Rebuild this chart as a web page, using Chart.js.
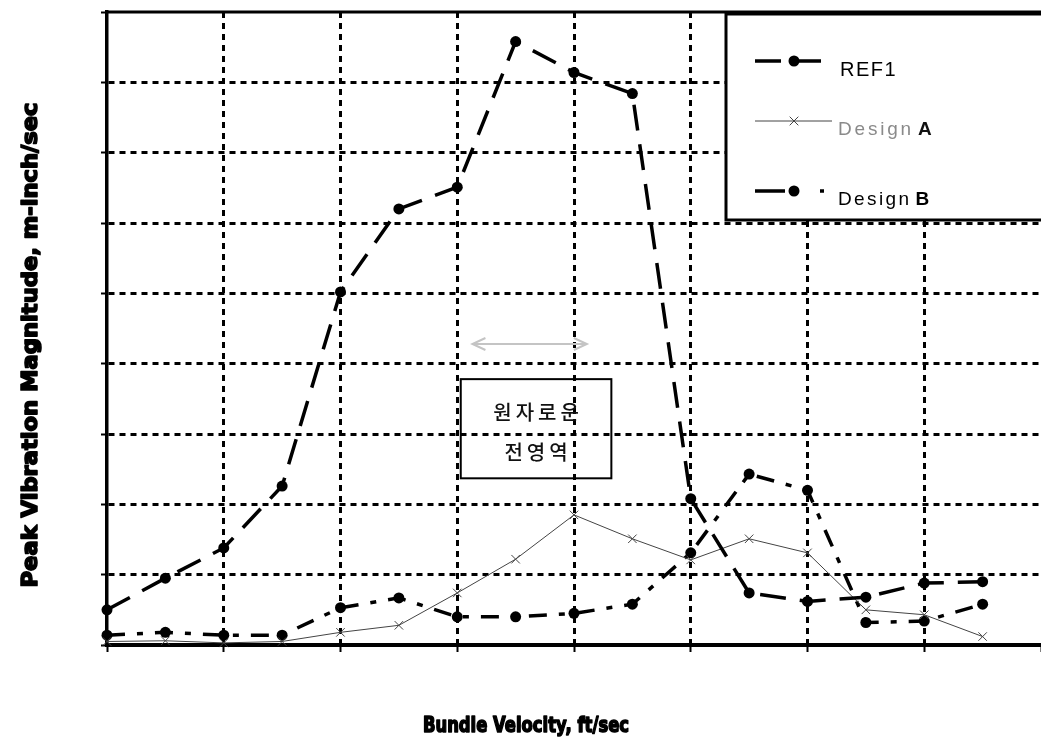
<!DOCTYPE html>
<html>
<head>
<meta charset="utf-8">
<script src="https://cdn.jsdelivr.net/npm/chart.js@4.4.0/dist/chart.umd.min.js"></script>
<style>
html, body { margin: 0; padding: 0; background: #fff; }
</style>
</head>
<body>
<canvas id="myChart" width="1041" height="738"></canvas>
<script>
// values (no tick labels are printed on it)
const velocity = [0, 0.5, 1, 1.5, 2, 2.5, 3, 3.5, 4, 4.5, 5, 5.5, 6, 6.5, 7, 7.5];
const ref1    = [0.5, 0.95, 1.38, 2.26, 5.02, 6.2, 6.51, 8.58, 8.14, 7.84, 2.08, 0.74, 0.62, 0.68, 0.88, 0.9];
const designA = [0.05, 0.06, 0.03, 0.05, 0.18, 0.28, 0.74, 1.22, 1.85, 1.51, 1.21, 1.51, 1.31, 0.5, 0.43, 0.12];
const designB = [0.14, 0.18, 0.14, 0.14, 0.53, 0.67, 0.4, 0.4, 0.45, 0.58, 1.31, 2.43, 2.2, 0.32, 0.34, 0.58];
const seriesNames = ['REF1', 'Design A', 'Design B'];
const xTitle = 'Bundle Velocity, ft/sec';
const yTitle = 'Peak Vibration Magnitude, m-inch/sec';
const noteLines = ['원자로운', '전영역'];

function toPoints(vals) {
  return vals.map((v, i) => ({x: velocity[i], y: v}));
}

const styles = [
  {borderColor: '#000', backgroundColor: '#000', borderWidth: 3.5, borderDash: [26, 14], pointStyle: 'circle', pointRadius: 5.5},
  {borderColor: '#444', backgroundColor: '#444', borderWidth: 1, borderDash: [], pointStyle: 'crossRot', pointRadius: 6},
  {borderColor: '#000', backgroundColor: '#000', borderWidth: 3.5, borderDash: [18, 12, 6, 12], pointStyle: 'circle', pointRadius: 5.5}
];

// draws text char by char with extra spacing, returns end x
function spacedText(ctx, text, x, y, gap) {
  for (const ch of text) {
    ctx.fillText(ch, x, y);
    x += ctx.measureText(ch).width + gap;
  }
  return x;
}

function stretchedText(ctx, text, cx, cy, width, rot) {
  ctx.save();
  ctx.translate(cx, cy);
  ctx.rotate(rot);
  const w = ctx.measureText(text).width;
  ctx.scale(width / w, 1);
  ctx.textAlign = 'center';
  ctx.textBaseline = 'alphabetic';
  ctx.lineWidth = 1.6;
  ctx.lineJoin = 'round';
  ctx.strokeStyle = '#000';
  ctx.strokeText(text, 0, 0);
  ctx.fillText(text, 0, 0);
  ctx.restore();
}

function marker(ctx, st, x, y) {
  ctx.save();
  ctx.setLineDash([]);
  if (st.pointStyle === 'circle') {
    ctx.fillStyle = st.backgroundColor;
    ctx.beginPath();
    ctx.arc(x, y, st.pointRadius, 0, Math.PI * 2);
    ctx.fill();
  } else {
    const r = st.pointRadius * 0.72;
    ctx.strokeStyle = st.borderColor;
    ctx.lineWidth = 1;
    ctx.beginPath();
    ctx.moveTo(x - r, y - r); ctx.lineTo(x + r, y + r);
    ctx.moveTo(x - r, y + r); ctx.lineTo(x + r, y - r);
    ctx.stroke();
  }
  ctx.restore();
}

const decor = {
  id: 'decor',
  afterDatasetsDraw(chart) {
    const ctx = chart.ctx;
    const x = chart.scales.x, y = chart.scales.y;
    ctx.save();
    // faint double arrow
    const ax1 = x.getPixelForValue(3.13), ax2 = x.getPixelForValue(4.11), ay = y.getPixelForValue(4.28);
    ctx.strokeStyle = '#c4c4c4';
    ctx.lineWidth = 2;
    ctx.beginPath();
    ctx.moveTo(ax1, ay); ctx.lineTo(ax2, ay);
    ctx.moveTo(ax1 + 13, ay - 6); ctx.lineTo(ax1, ay); ctx.lineTo(ax1 + 13, ay + 6);
    ctx.moveTo(ax2 - 13, ay - 6); ctx.lineTo(ax2, ay); ctx.lineTo(ax2 - 13, ay + 6);
    ctx.stroke();
    // note box
    const bl = x.getPixelForValue(3.03), br = x.getPixelForValue(4.32);
    const bt = y.getPixelForValue(3.78), bb = y.getPixelForValue(2.37);
    ctx.strokeStyle = '#000';
    ctx.lineWidth = 2;
    ctx.strokeRect(bl, bt, br - bl, bb - bt);
    ctx.fillStyle = '#111';
    ctx.font = '500 20px "Noto Sans CJK KR"';
    ctx.textBaseline = 'middle';
    ctx.textAlign = 'left';
    const cx = (bl + br) / 2;
    let w = ctx.measureText(noteLines[0]).width + 3 * 4;
    spacedText(ctx, noteLines[0], cx - w / 2, bt + 33, 4);
    w = ctx.measureText(noteLines[1]).width + 2 * 4;
    spacedText(ctx, noteLines[1], cx - w / 2, bt + 73, 4);
    ctx.restore();
  },
  afterDraw(chart) {
    const ctx = chart.ctx;
    const a = chart.chartArea;
    ctx.save();
    // solid top frame
    ctx.strokeStyle = '#000';
    ctx.lineWidth = 3;
    ctx.beginPath();
    ctx.moveTo(a.left - 2, a.top); ctx.lineTo(chart.width, a.top);
    ctx.stroke();

    // legend box
    const lb = {l: 726, t: a.top + 2, b: 220};
    ctx.fillStyle = '#fff';
    ctx.fillRect(lb.l, lb.t, chart.width - lb.l + 5, lb.b - lb.t);
    ctx.strokeRect(lb.l, lb.t, chart.width - lb.l + 5, lb.b - lb.t);
    const rowY = [61, 121, 191];
    const baseY = [76, 135, 205];
    styles.forEach((st, i) => {
      ctx.save();
      ctx.strokeStyle = st.borderColor;
      ctx.lineWidth = st.borderWidth;
      ctx.setLineDash(i === 2 ? [30, 35, 10] : st.borderDash);
      ctx.beginPath();
      ctx.moveTo(755, rowY[i]);
      ctx.lineTo(i === 1 ? 832 : 824, rowY[i]);
      ctx.stroke();
      ctx.restore();
      marker(ctx, st, 794, rowY[i]);
    });
    ctx.textBaseline = 'alphabetic';
    ctx.textAlign = 'left';
    ctx.fillStyle = '#000';
    ctx.font = '20px "Liberation Sans"';
    spacedText(ctx, seriesNames[0], 840, baseY[0], 1.5);
    let parts = seriesNames[1].split(' ');
    ctx.fillStyle = '#8a8a8a';
    ctx.font = '19px "Liberation Sans"';
    let ex = spacedText(ctx, parts[0], 838, baseY[1], 2.8);
    ctx.fillStyle = '#111';
    ctx.font = 'bold 19px "Liberation Sans"';
    ctx.fillText(parts[1], ex + 4, baseY[1]);
    parts = seriesNames[2].split(' ');
    ctx.fillStyle = '#000';
    ctx.font = '19px "Liberation Sans"';
    ex = spacedText(ctx, parts[0], 838, baseY[2], 2.4);
    ctx.font = 'bold 19px "Liberation Sans"';
    ctx.fillText(parts[1], ex + 4, baseY[2]);

    // axis titles
    ctx.fillStyle = '#000';
    ctx.font = 'bold 21px "DejaVu Sans"';
    stretchedText(ctx, xTitle, 526, 732, 206, 0);
    stretchedText(ctx, yTitle, 37, 345, 485, -Math.PI / 2);
    ctx.restore();
  }
};

function gridColor(last) {
  return c => (c.tick && (c.tick.value === last || c.tick.value === 0)) ? 'rgba(0,0,0,0)' : '#000';
}

const ctx = document.getElementById('myChart').getContext('2d');
const myChart = new Chart(ctx, {
  type: 'line',
  plugins: [decor],
  data: {
    datasets: [ref1, designA, designB].map((vals, i) => ({
      label: seriesNames[i],
      data: toPoints(vals),
      borderColor: styles[i].borderColor,
      backgroundColor: styles[i].backgroundColor,
      borderWidth: styles[i].borderWidth,
      borderDash: styles[i].borderDash,
      pointStyle: styles[i].pointStyle,
      pointRadius: styles[i].pointRadius,
      pointBorderWidth: i === 1 ? 1 : 0,
      pointBackgroundColor: styles[i].backgroundColor,
      pointBorderColor: styles[i].borderColor,
      tension: 0,
      clip: false
    }))
  },
  options: {
    responsive: false,
    animation: false,
    devicePixelRatio: 1,
    layout: {autoPadding: false, padding: {top: 12, left: 0, right: 0, bottom: 0}},
    plugins: {
      legend: {display: false},
      tooltip: {enabled: false},
      title: {display: false}
    },
    scales: {
      x: {
        type: 'linear',
        min: 0, max: 8,
        afterFit: s => { s.height = 93; },
        ticks: {display: false, stepSize: 1},
        grid: {color: gridColor(8), lineWidth: 3, tickLength: 7, tickColor: '#000', tickWidth: 2, tickBorderDash: []},
        border: {display: true, color: '#000', width: 4, dash: [6, 5]}
      },
      y: {
        min: 0, max: 9,
        afterFit: s => { s.width = 107; },
        ticks: {display: false, stepSize: 1},
        grid: {color: gridColor(9), lineWidth: 3, tickLength: 6, tickColor: '#000', tickWidth: 2, tickBorderDash: []},
        border: {display: true, color: '#000', width: 3.5, dash: [6, 5]}
      }
    }
  }
});
</script>
</body>
</html>
